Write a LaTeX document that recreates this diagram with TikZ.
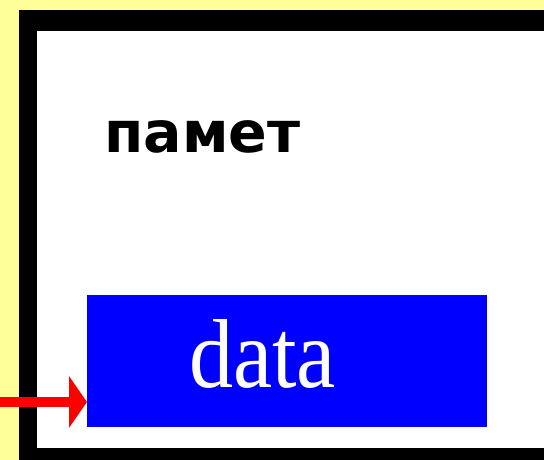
\documentclass[tikz,border=0pt]{standalone}
\usepackage{fontspec}
\newfontfamily\memfont{DejaVu Sans}
\newfontfamily\datafont{Liberation Serif}
\usepackage{tikz}
\usetikzlibrary{arrows.meta, calc, positioning}
\definecolor{paleyellow}{HTML}{FFFF99}

\begin{document}
\begin{tikzpicture}[
    x=1pt, y=-1pt,
    cell/.style={fill=blue, inner sep=0pt, minimum width=400pt, minimum height=132pt},
    arrow/.style={-{Triangle[length=18pt, width=51pt]}, red, line width=10pt}
]
    \useasboundingbox (0,0) rectangle (544,460);

    % фон и рамка на паметта
    \fill[paleyellow] (0,0) rectangle (544,460);
    \fill[black] (19,10) rectangle (544,460);
    \fill[white] (37,31) rectangle (544,448);

    \node[anchor=base west, inner sep=0pt, font=\memfont\bfseries\fontsize{57}{60}\selectfont] (mem) at (104,153) {памет};

    % клетка с данни
    \node[cell, anchor=north west] (cell) at (87,295) {};
    \node[anchor=base west, inner sep=0pt, text=white, xscale=0.9, font=\datafont\fontsize{98}{100}\selectfont] (label) at (189,387) {data};

    % входяща стрелка
    \coordinate (src) at (0,402);
    \draw[arrow] (src) -- (src -| cell.west);
\end{tikzpicture}
\end{document}
